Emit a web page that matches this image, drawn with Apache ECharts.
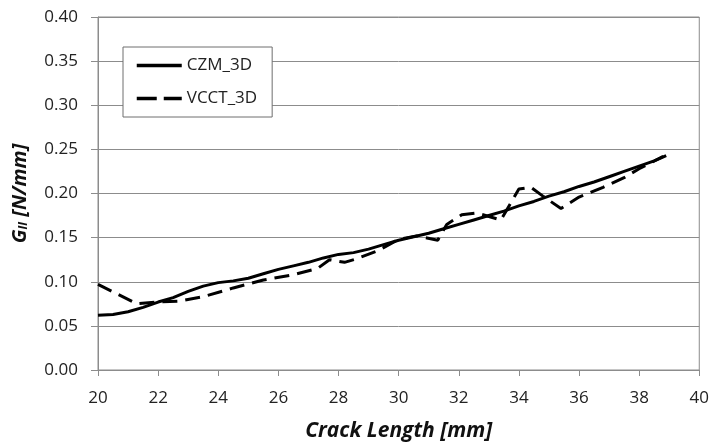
<!DOCTYPE html>
<html>
<head>
<meta charset="utf-8">
<script src="https://cdn.jsdelivr.net/npm/echarts@6/dist/echarts.min.js"></script>
<style>html,body{margin:0;padding:0;background:#fff}#c{width:712px;height:447px}</style>
</head>
<body>
<div id="c"></div>
<script>
var czmX = [20, 20.5, 21, 21.5, 22, 22.5, 23, 23.5, 24, 24.5, 25, 25.5, 26, 26.5, 27, 27.5, 28, 28.5, 29, 29.5, 30, 30.5, 31, 31.5, 32, 32.5, 33, 33.5, 34, 34.5, 35, 35.5, 36, 36.5, 37, 37.5, 38, 38.5, 38.9];
var czmY = [0.062, 0.063, 0.066, 0.071, 0.077, 0.082, 0.089, 0.095, 0.099, 0.101, 0.104, 0.109, 0.114, 0.118, 0.122, 0.127, 0.131, 0.133, 0.137, 0.142, 0.147, 0.151, 0.155, 0.160, 0.165, 0.170, 0.175, 0.180, 0.186, 0.191, 0.197, 0.202, 0.208, 0.213, 0.219, 0.225, 0.231, 0.237, 0.243];
var vcctX = [20, 21.3, 22, 22.7, 23.5, 24.5, 25.5, 26.5, 27.3, 27.7, 28.2, 28.6, 29.3, 30, 30.6, 31.3, 31.6, 32.1, 32.6, 33.4, 34, 34.4, 34.8, 35.4, 36, 36.8, 37.5, 38, 38.8];
var vcctY = [0.097, 0.075, 0.077, 0.078, 0.083, 0.093, 0.102, 0.108, 0.115, 0.125, 0.122, 0.126, 0.135, 0.148, 0.152, 0.147, 0.165, 0.176, 0.178, 0.170, 0.205, 0.207, 0.197, 0.183, 0.196, 0.207, 0.218, 0.228, 0.242];
var seriesNames = ['CZM_3D', 'VCCT_3D'];
var xTicks = [20, 22, 24, 26, 28, 30, 32, 34, 36, 38, 40];
var yTicks = [0.00, 0.05, 0.10, 0.15, 0.20, 0.25, 0.30, 0.35, 0.40];

function pairs(xs, ys) { return xs.map(function (x, i) { return [x, ys[i]]; }); }

var FONT = '"Open Sans", "Liberation Sans", sans-serif';
var chart = echarts.init(document.getElementById('c'), null, { renderer: 'canvas' });
chart.setOption({
  animation: false,
  backgroundColor: '#fff',
  grid: { left: 98, right: 10, top: 17, bottom: 74, show: true, borderColor: '#8c8c8c', borderWidth: 1, backgroundColor: 'transparent' },
  legend: {
    left: 123, top: 47, orient: 'vertical',
    backgroundColor: '#fff',
    borderColor: '#6e6e6e', borderWidth: 1,
    padding: [10, 15, 10, 12],
    itemWidth: 45, itemHeight: 14, itemGap: 16,
    itemStyle: { opacity: 0 },
    lineStyle: { width: 3.5 },
    textStyle: { fontFamily: FONT, fontSize: 17, color: '#222' },
    data: [
      { name: seriesNames[0] },
      { name: seriesNames[1], lineStyle: { width: 3.5, type: [20, 7] } }
    ]
  },
  xAxis: {
    type: 'value', min: xTicks[0], max: xTicks[xTicks.length - 1], interval: 2,
    axisLine: { lineStyle: { color: '#8c8c8c', width: 1 } },
    axisTick: { show: true, length: 6, lineStyle: { color: '#8c8c8c' } },
    splitLine: { show: false },
    axisLabel: { fontFamily: FONT, fontSize: 17, color: '#222', margin: 20 },
    name: 'Crack Length [mm]', nameLocation: 'middle', nameGap: 51,
    nameTextStyle: { fontFamily: FONT, fontSize: 21, fontWeight: 'bold', fontStyle: 'italic', color: '#111' }
  },
  yAxis: {
    type: 'value', min: yTicks[0], max: yTicks[yTicks.length - 1], interval: 0.05,
    axisLine: { show: true, lineStyle: { color: '#8c8c8c', width: 1 } },
    axisTick: { show: true, length: 7, lineStyle: { color: '#8c8c8c' } },
    splitLine: { show: true, lineStyle: { color: '#8c8c8c', width: 1 } },
    axisLabel: { fontFamily: FONT, fontSize: 17, color: '#222', margin: 20, formatter: function (v) { return v.toFixed(2); } },
    name: '{a|G}{b|II}{a| [N/mm]}', nameLocation: 'middle', nameGap: 68, nameRotate: 90,
    nameTextStyle: {
      rich: {
        a: { fontFamily: FONT, fontSize: 20, fontWeight: 'bold', fontStyle: 'italic', color: '#111' },
        b: { fontFamily: FONT, fontSize: 12, fontWeight: 'bold', fontStyle: 'italic', color: '#111', verticalAlign: 'bottom', padding: [8, 0, 0, 0] }
      }
    }
  },
  series: [
    { name: seriesNames[0], type: 'line', data: pairs(czmX, czmY), symbol: 'none', smooth: false,
      lineStyle: { color: '#000', width: 3 }, itemStyle: { color: '#000' }, z: 3 },
    { name: seriesNames[1], type: 'line', data: pairs(vcctX, vcctY), symbol: 'none', smooth: false,
      lineStyle: { color: '#000', width: 3, type: [15, 8] }, itemStyle: { color: '#000' }, z: 2 }
  ]
});
</script>
</body>
</html>
